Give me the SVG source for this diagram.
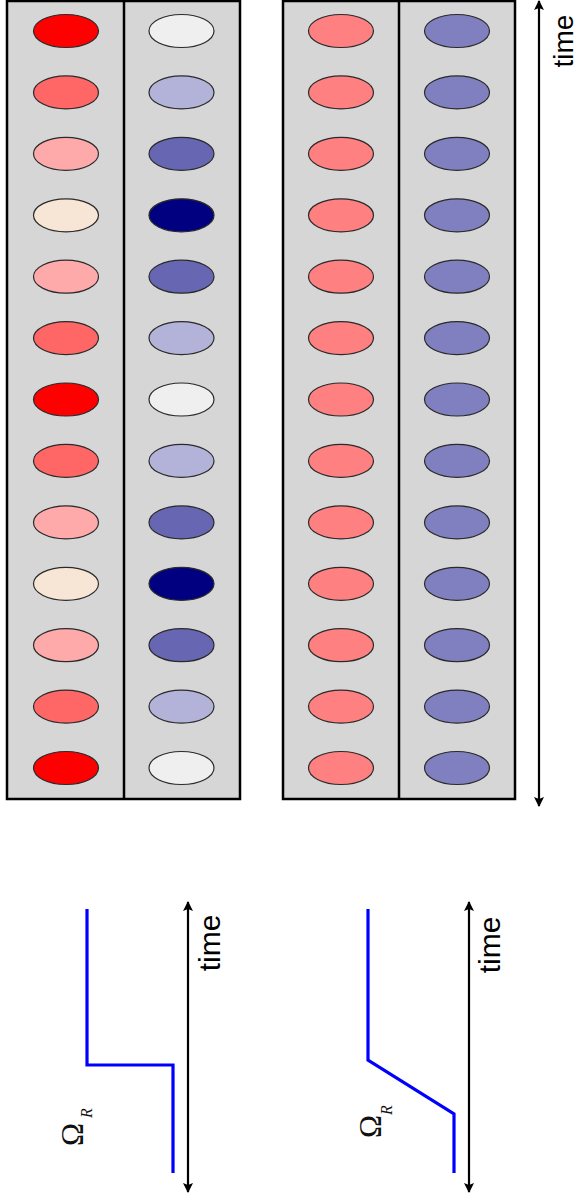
<svg xmlns="http://www.w3.org/2000/svg" width="580" height="1201" viewBox="0 0 580 1201">
<style>
.panel{fill:#D6D6D6;stroke:#000;stroke-width:2.5}
.div{stroke:#000;stroke-width:2.5}
.e{stroke:#2a2a2a;stroke-width:1.2}
.ax{stroke:#000;stroke-width:2.2;fill:none}
.sig{stroke:#0000FF;stroke-width:3.2;fill:none}
.lbl{font-family:"Liberation Sans",Arial,sans-serif;font-size:30px;fill:#000}
.lbl2{font-family:"Liberation Sans",Arial,sans-serif;font-size:28px;fill:#000}
.om{font-family:"Liberation Serif","Times New Roman",serif;font-size:31px;fill:#111}
.sub{font-family:"Liberation Serif","Times New Roman",serif;font-size:16px;font-style:italic;fill:#111}
.c0{fill:#FF0000}.c1{fill:#FF6666}.c2{fill:#FFAAAA}.c3{fill:#F7E6D5}
.b0{fill:#EFEFEF}.b1{fill:#B3B3D9}.b2{fill:#6666B3}.b3{fill:#000080}
.cr{fill:#FF8080}.cb{fill:#8080C0}
</style>
<defs>
<marker id="ah" viewBox="0 0 10 10" refX="9" refY="5" markerWidth="10" markerHeight="11" markerUnits="userSpaceOnUse" orient="auto-start-reverse">
<path d="M0,0 L10,5 L0,10 L2,5 Z" fill="#000"/>
</marker>
</defs>

<g id="panel-modulated">
<rect class="panel" x="7" y="1" width="233" height="798"/>
<line class="div" x1="124" y1="1" x2="124" y2="799"/>
<g id="left-red">
<ellipse class="e c0" cx="66" cy="31" rx="32.5" ry="16.5"/>
<ellipse class="e c1" cx="66" cy="92.4" rx="32.5" ry="16.5"/>
<ellipse class="e c2" cx="66" cy="153.8" rx="32.5" ry="16.5"/>
<ellipse class="e c3" cx="66" cy="215.3" rx="32.5" ry="16.5"/>
<ellipse class="e c2" cx="66" cy="276.7" rx="32.5" ry="16.5"/>
<ellipse class="e c1" cx="66" cy="338.1" rx="32.5" ry="16.5"/>
<ellipse class="e c0" cx="66" cy="399.5" rx="32.5" ry="16.5"/>
<ellipse class="e c1" cx="66" cy="460.9" rx="32.5" ry="16.5"/>
<ellipse class="e c2" cx="66" cy="522.4" rx="32.5" ry="16.5"/>
<ellipse class="e c3" cx="66" cy="583.8" rx="32.5" ry="16.5"/>
<ellipse class="e c2" cx="66" cy="645.2" rx="32.5" ry="16.5"/>
<ellipse class="e c1" cx="66" cy="706.6" rx="32.5" ry="16.5"/>
<ellipse class="e c0" cx="66" cy="768" rx="32.5" ry="16.5"/>
</g>
<g id="left-blue">
<ellipse class="e b0" cx="181.5" cy="31" rx="32.5" ry="16.5"/>
<ellipse class="e b1" cx="181.5" cy="92.4" rx="32.5" ry="16.5"/>
<ellipse class="e b2" cx="181.5" cy="153.8" rx="32.5" ry="16.5"/>
<ellipse class="e b3" cx="181.5" cy="215.3" rx="32.5" ry="16.5"/>
<ellipse class="e b2" cx="181.5" cy="276.7" rx="32.5" ry="16.5"/>
<ellipse class="e b1" cx="181.5" cy="338.1" rx="32.5" ry="16.5"/>
<ellipse class="e b0" cx="181.5" cy="399.5" rx="32.5" ry="16.5"/>
<ellipse class="e b1" cx="181.5" cy="460.9" rx="32.5" ry="16.5"/>
<ellipse class="e b2" cx="181.5" cy="522.4" rx="32.5" ry="16.5"/>
<ellipse class="e b3" cx="181.5" cy="583.8" rx="32.5" ry="16.5"/>
<ellipse class="e b2" cx="181.5" cy="645.2" rx="32.5" ry="16.5"/>
<ellipse class="e b1" cx="181.5" cy="706.6" rx="32.5" ry="16.5"/>
<ellipse class="e b0" cx="181.5" cy="768" rx="32.5" ry="16.5"/>
</g>
</g>

<g id="panel-adiabatic">
<rect class="panel" x="283" y="1" width="232" height="798"/>
<line class="div" x1="399" y1="1" x2="399" y2="799"/>
<g id="right-red">
<ellipse class="e cr" cx="341" cy="31" rx="32.5" ry="16.5"/>
<ellipse class="e cr" cx="341" cy="92.4" rx="32.5" ry="16.5"/>
<ellipse class="e cr" cx="341" cy="153.8" rx="32.5" ry="16.5"/>
<ellipse class="e cr" cx="341" cy="215.3" rx="32.5" ry="16.5"/>
<ellipse class="e cr" cx="341" cy="276.7" rx="32.5" ry="16.5"/>
<ellipse class="e cr" cx="341" cy="338.1" rx="32.5" ry="16.5"/>
<ellipse class="e cr" cx="341" cy="399.5" rx="32.5" ry="16.5"/>
<ellipse class="e cr" cx="341" cy="460.9" rx="32.5" ry="16.5"/>
<ellipse class="e cr" cx="341" cy="522.4" rx="32.5" ry="16.5"/>
<ellipse class="e cr" cx="341" cy="583.8" rx="32.5" ry="16.5"/>
<ellipse class="e cr" cx="341" cy="645.2" rx="32.5" ry="16.5"/>
<ellipse class="e cr" cx="341" cy="706.6" rx="32.5" ry="16.5"/>
<ellipse class="e cr" cx="341" cy="768" rx="32.5" ry="16.5"/>
</g>
<g id="right-blue">
<ellipse class="e cb" cx="457" cy="31" rx="32.5" ry="16.5"/>
<ellipse class="e cb" cx="457" cy="92.4" rx="32.5" ry="16.5"/>
<ellipse class="e cb" cx="457" cy="153.8" rx="32.5" ry="16.5"/>
<ellipse class="e cb" cx="457" cy="215.3" rx="32.5" ry="16.5"/>
<ellipse class="e cb" cx="457" cy="276.7" rx="32.5" ry="16.5"/>
<ellipse class="e cb" cx="457" cy="338.1" rx="32.5" ry="16.5"/>
<ellipse class="e cb" cx="457" cy="399.5" rx="32.5" ry="16.5"/>
<ellipse class="e cb" cx="457" cy="460.9" rx="32.5" ry="16.5"/>
<ellipse class="e cb" cx="457" cy="522.4" rx="32.5" ry="16.5"/>
<ellipse class="e cb" cx="457" cy="583.8" rx="32.5" ry="16.5"/>
<ellipse class="e cb" cx="457" cy="645.2" rx="32.5" ry="16.5"/>
<ellipse class="e cb" cx="457" cy="706.6" rx="32.5" ry="16.5"/>
<ellipse class="e cb" cx="457" cy="768" rx="32.5" ry="16.5"/>
</g>
</g>

<g id="connectors">
<line class="ax" x1="539" y1="806" x2="539" y2="1" marker-start="url(#ah)" marker-end="url(#ah)"/>
<line class="ax" x1="188" y1="1192" x2="188" y2="902" marker-start="url(#ah)" marker-end="url(#ah)"/>
<line class="ax" x1="469" y1="1192" x2="469" y2="902" marker-start="url(#ah)" marker-end="url(#ah)"/>
</g>

<g id="plot-step">
<polyline class="sig" points="87,909 87,1065 173,1065 173,1173"/>
<text class="om" transform="translate(83,1146) rotate(-90)">Ω</text>
<text class="sub" transform="translate(92,1118) rotate(-90)">R</text>
</g>

<g id="plot-ramp">
<polyline class="sig" points="368,909 368,1060 454,1114 454,1173"/>
<text class="om" transform="translate(381,1138) rotate(-90)">Ω</text>
<text class="sub" transform="translate(392,1115) rotate(-90)">R</text>
</g>

<g id="labels">
<text class="lbl2" text-anchor="middle" transform="translate(573,41) rotate(-90)">time</text>
<text class="lbl" text-anchor="middle" transform="translate(220,943) rotate(-90)">time</text>
<text class="lbl" text-anchor="middle" transform="translate(500,945) rotate(-90)">time</text>
</g>
</svg>
